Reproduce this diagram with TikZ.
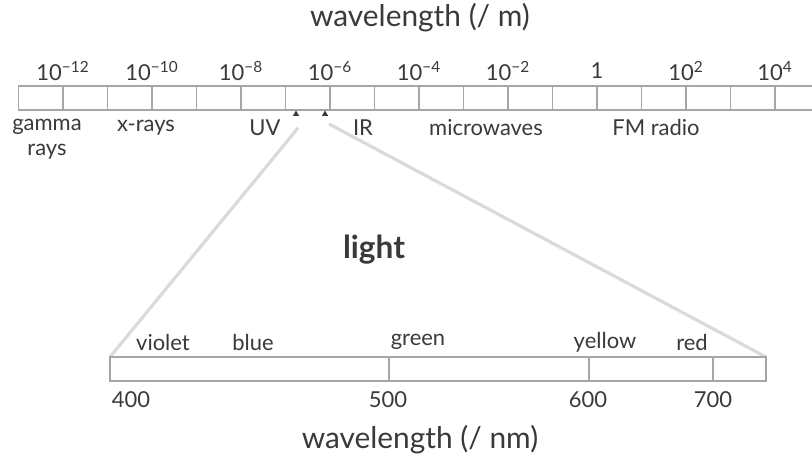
\documentclass[tikz,border=0pt]{standalone}
\usepackage{fontspec}
\setmainfont{Lato}
\usetikzlibrary{arrows.meta,positioning,calc,shapes.geometric}
\definecolor{inkgray}{HTML}{3A3A3A}
\definecolor{bargray}{HTML}{A6A6A6}
\definecolor{funnel}{HTML}{DADADA}
\tikzset{
  bandlabel/.style={text=inkgray,font=\fontsize{12.5}{14}\selectfont,inner sep=0pt},
  numlabel/.style={bandlabel,font=\fontsize{12.5}{14}\selectfont},
  axistitle/.style={text=inkgray,font=\fontsize{17}{19}\selectfont,inner sep=0pt},
  barline/.style={draw=bargray,line width=0.6pt},
  marker/.style={regular polygon,regular polygon sides=3,fill=inkgray,inner sep=0pt,minimum size=4pt},
  funnelline/.style={draw=funnel,line width=1.8pt}
}

\begin{document}
\begin{tikzpicture}[x=0.02cm,y=-0.02cm]
  \useasboundingbox[fill=white] (0,0) rectangle (812,463);
  % full spectrum, one cell per decade
  \node[axistitle] (toptitle) at (420,18) {wavelength (/ m)};
  \draw[barline] (812,86) -- (18.5,86) -- (18.5,110) -- (812,110);
  \foreach \k in {1,...,17}
    \draw[barline] (18.5+44.5*\k,86) -- ++(0,24);
  \foreach \e in {-12,-10,...,-2}
    \node[numlabel] (exp\e) at (63+44.5*\e+534,71) {10\textsuperscript{−\the\numexpr-\e\relax}};
  \node[numlabel] (exp0) at (597,71) {1};
  \node[numlabel] (exp2) at (686,71) {10\textsuperscript{2}};
  \node[numlabel] (exp4) at (775,71) {10\textsuperscript{4}};
  \node[bandlabel,align=center] (gamma) at (47,139) {gamma\\rays};
  \node[bandlabel] (xrays) at (146,128) {x-rays};
  \node[bandlabel] (uv) at (265,128) {UV};
  \node[bandlabel] (ir) at (363,128) {IR};
  \node[bandlabel] (micro) at (486,128) {microwaves};
  \node[bandlabel] (fm) at (656,128) {FM radio};
  \node[marker] (vis1) at (296,114) {};
  \node[marker] (vis2) at (325,114) {};

  % visible part, zoomed
  \node[text=inkgray,font=\bfseries\fontsize{18}{20}\selectfont] (light) at (374,250) {light};
  \coordinate (lo) at (110,357);
  \coordinate (hi) at (766,357);
  \draw[funnelline] ($(vis1)+(2,14)$) coordinate (vis1f) -- (lo);
  \draw[funnelline] ($(vis2)+(4,10)$) coordinate (vis2f) -- (hi);
  \draw[barline] (lo) rectangle (766,381);
  \foreach \xx in {389,589,713}
    \draw[barline] (\xx,357) -- (\xx,381);
  \node[bandlabel] (violet) at (163,342) {violet};
  \node[bandlabel] (blue) at (253,342) {blue};
  \node[bandlabel] (green) at (418,342) {green};
  \node[bandlabel] (yellow) at (605,342) {yellow};
  \node[bandlabel] (red) at (692,342) {red};
  \node[numlabel] (n400) at (131,400) {400};
  \node[numlabel] (n500) at (388,400) {500};
  \node[numlabel] (n600) at (588,400) {600};
  \node[numlabel] (n700) at (713,400) {700};
  \node[axistitle] (bottitle) at (420,440) {wavelength (/ nm)};
\end{tikzpicture}
\end{document}
